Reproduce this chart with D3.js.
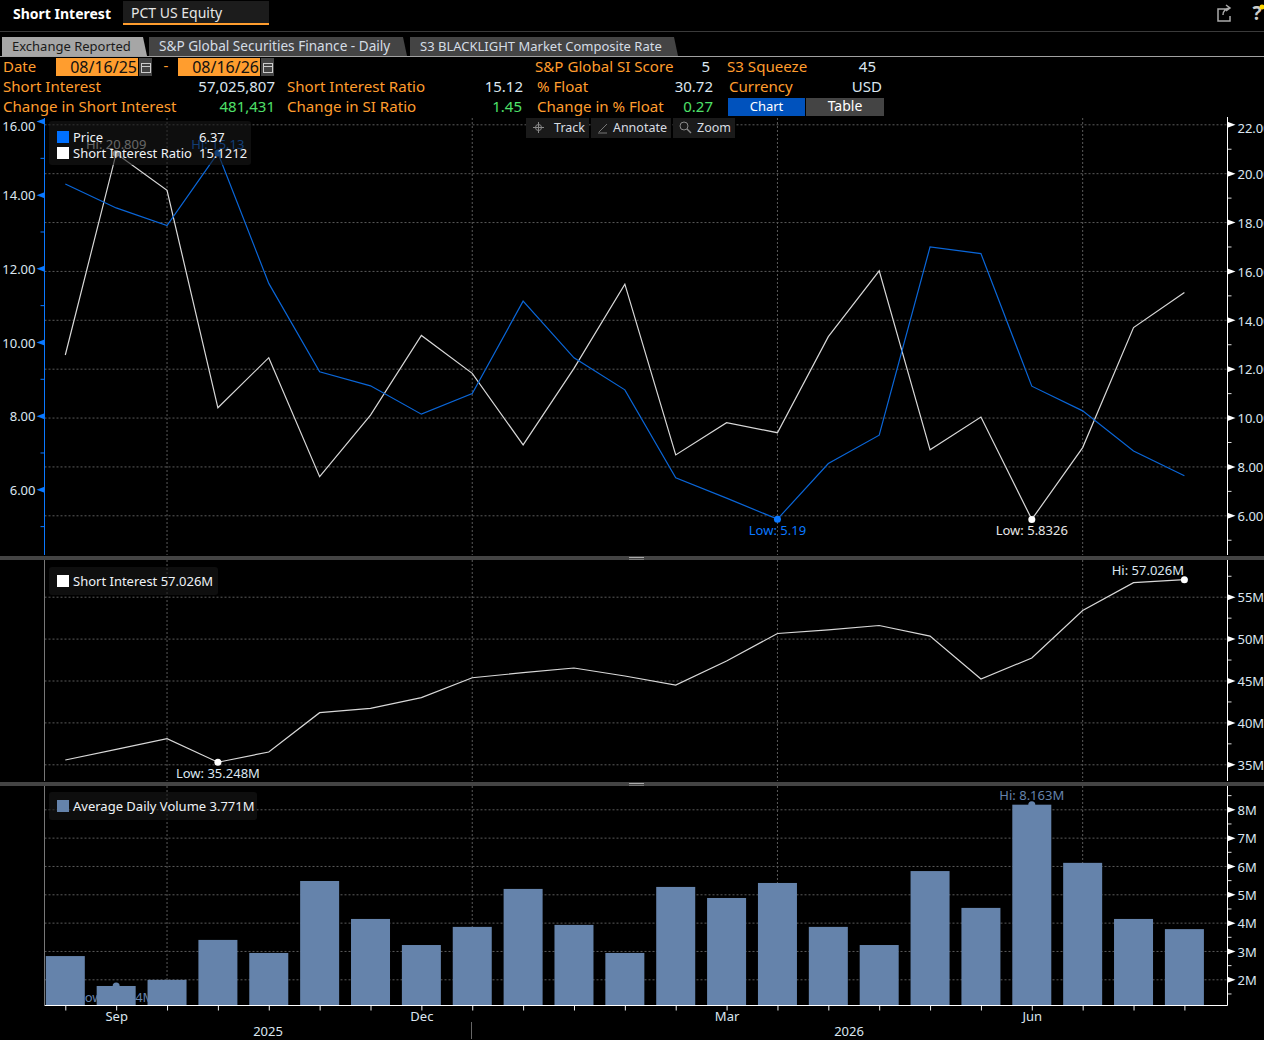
<!DOCTYPE html>
<html>
<head>
<meta charset="utf-8">
<script src="https://cdn.jsdelivr.net/npm/d3@7"></script>
<style>
  html, body { margin: 0; padding: 0; background: #000; overflow: hidden; }
  svg { display: block; }
  text { font-family: "Noto Sans", sans-serif; font-size: 13px; }
</style>
</head>
<body>
<div id="chart"></div>
<script>
// semi-monthly report dates
var dates = ['Aug 29','Sep 15','Sep 30','Oct 15','Oct 31','Nov 14','Nov 28','Dec 15','Dec 31','Jan 15','Jan 30','Feb 13',
             'Feb 27','Mar 13','Mar 31','Apr 15','Apr 30','May 15','May 29','Jun 15','Jun 30','Jul 15','Jul 31']
var price = [14.29,13.64,13.16,15.13,11.59,9.19,8.81,8.04,8.60,11.11,9.57,8.70,6.31,5.76,5.19,6.70,7.47,12.58,12.40,8.80,8.13,7.04,6.37]
var siRatio = [12.56,20.809,19.30,10.40,12.45,7.58,10.10,13.36,11.81,8.88,12.01,15.46,8.47,9.79,9.38,13.31,16.00,8.68,10.02,5.8326,8.77,13.68,15.1212]
var shortInterest = [35.51,36.79,38.06,35.248,36.47,41.16,41.68,42.95,45.33,45.93,46.49,45.54,44.46,47.33,50.61,51.03,51.56,50.30,45.18,47.68,53.35,56.67,57.026]
var avgVolume = [2.82,1.764,1.98,3.39,2.93,5.47,4.13,3.21,3.85,5.19,3.92,2.93,5.26,4.87,5.40,3.85,3.21,5.82,4.52,8.163,6.11,4.13,3.771]

var monthLabels = {'Sep 15':'Sep','Dec 15':'Dec','Mar 13':'Mar','Jun 15':'Jun'}
var quarterLines = ['Sep 30','Dec 31','Mar 31','Jun 30']
var priceTicks = [6,8,10,12,14,16]
var priceMinor = [5,7,9,11,13,15]
var ratioTicks = [6,8,10,12,14,16,18,20,22]
var ratioMinor = [5,7,9,11,13,15,17,19,21]
var siTicks = [35,40,45,50,55]
var siMinor = [37.5,42.5,47.5,52.5,57.5]
var volTicks = [2,3,4,5,6,7,8]
var volMinor = [1.5,2.5,3.5,4.5,5.5,6.5,7.5,8.5]

var orange = '#ff9d2e', valueCol = '#dbe6f0', green = '#4fe06a', gridCol = '#5a5a5a'
var blue = '#0a66d8', barCol = '#6583ab'

var svg = d3.select('#chart').append('svg').attr('width', 1264).attr('height', 1040)

function txt(g, x, y, s, col, anchor, size, weight) {
  var t = g.append('text').attr('x', x).attr('y', y).attr('dy', '0.35em')
    .attr('fill', col || valueCol).attr('text-anchor', anchor || 'start').text(s)
  if (size) t.style('font-size', size + 'px')
  if (weight) t.style('font-weight', weight)
  return t
}
function box(g, x, y, w, h, col) {
  return g.append('rect').attr('x', x).attr('y', y).attr('width', w).attr('height', h).attr('fill', col)
}

// header ---------------------------------------------------------
var head = svg.append('g')
txt(head, 13, 14, 'Short Interest', '#fff', 'start', 14, 'bold')
box(head, 123, 1, 146, 23, '#1c1c1c')
box(head, 123, 23, 146, 2, orange)
txt(head, 131, 13, 'PCT US Equity', '#e6e6e6', 'start', 14)
box(head, 0, 31, 1264, 1, '#3a3a3a')
box(head, 0, 56, 1264, 1, '#a0a0a0')

var tabs = [
  {label: 'Exchange Reported', x0: 2, x1: 147, fill: '#a6a6a6', col: '#1a1a1a', size: 13},
  {label: 'S&P Global Securities Finance - Daily', x0: 149, x1: 407, fill: '#444', col: '#d5dde5', size: 13.6},
  {label: 'S3 BLACKLIGHT Market Composite Rate', x0: 410, x1: 678, fill: '#444', col: '#d5dde5', size: 13}
]
tabs.forEach(function(t) {
  head.append('polygon').attr('fill', t.fill)
    .attr('points', [[t.x0,37],[t.x1-4,37],[t.x1,56],[t.x0,56]].join(' '))
  txt(head, t.x0 + 10, 46, t.label, t.col, 'start', t.size)
})

// date row
txt(head, 3, 67, 'Date', orange, 'start', 15)
box(head, 56, 58, 82, 18, orange)
txt(head, 137, 67, '08/16/25', '#111', 'end', 16)
box(head, 139, 58, 13, 18, '#444')
txt(head, 166, 66, '-', orange, 'middle', 15)
box(head, 178, 58, 82, 18, orange)
txt(head, 259, 67, '08/16/26', '#111', 'end', 16)
box(head, 261, 58, 13, 18, '#444')
;[140, 262].forEach(function(x) {
  head.append('rect').attr('x', x + 1.5).attr('y', 63.5).attr('width', 9).attr('height', 9)
    .attr('fill', 'none').attr('stroke', '#ccc')
  box(head, x + 1, 66, 10, 1, '#ccc')
})

var fieldLabels = [
  [3, 87, 'Short Interest'], [3, 107, 'Change in Short Interest'],
  [287, 87, 'Short Interest Ratio'], [287, 107, 'Change in SI Ratio'],
  [535, 67, 'S&P Global SI Score'], [537, 87, '% Float'], [537, 107, 'Change in % Float'],
  [727, 67, 'S3 Squeeze'], [729, 87, 'Currency']
]
var fieldValues = [
  [275, 87, '57,025,807', valueCol], [275, 107, '481,431', green],
  [523, 87, '15.12', valueCol], [522, 107, '1.45', green],
  [710, 67, '5', valueCol], [713, 87, '30.72', valueCol], [713, 107, '0.27', green],
  [876, 67, '45', valueCol], [882, 87, 'USD', valueCol]
]
fieldLabels.forEach(function(f) { txt(head, f[0], f[1], f[2], orange, 'start', 15.1) })
fieldValues.forEach(function(f) { txt(head, f[0], f[1], f[2], f[3], 'end', 15) })

box(head, 728, 98, 77, 18, '#0052bd')
txt(head, 766.5, 106, 'Chart', '#fff', 'middle', 13)
box(head, 806, 98, 78, 18, '#444')
txt(head, 845, 106, 'Table', '#fff', 'middle', 14)

// share + help icons
head.append('path').attr('d', 'M1228 9h-10v12h12v-5M1223 15c0-4 3-7 7-7M1226 5l4 3-4 3')
  .attr('fill', 'none').attr('stroke', '#aaa').attr('stroke-width', 1.5)
txt(head, 1257, 13, '?', '#ccc', 'middle', 19, 'bold')
head.append('circle').attr('cx', 1262).attr('cy', 7).attr('r', 2.5).attr('fill', '#ffd800')

// scales ---------------------------------------------------------
var x = d3.scalePoint().domain(dates).range([65.3, 1184.4])
var xL = 44.5, xR = 1227.5

var yPrice = d3.scaleLinear().domain([6, 16]).range([489.3, 121])
var yRatio = d3.scaleLinear().domain([6, 22]).range([515.3, 124.3])
var ySI = d3.scaleLinear().domain([35, 55]).range([764.3, 596.7])
var yVol = d3.scaleLinear().domain([2, 8]).range([979.3, 809.3])
var volBase = yVol.invert(1005.5)

var panels = [[118, 555], [560, 781], [786, 1005]]

function hGrid(scale, ticks) {
  svg.append('g').attr('transform', 'translate(' + xL + ',0)')
    .call(d3.axisRight(scale).tickValues(ticks).tickSize(xR - xL).tickFormat(''))
    .call(function(g) { g.select('.domain').remove() })
    .selectAll('line').attr('stroke', gridCol).attr('stroke-dasharray', '2,2')
}
hGrid(yRatio, ratioTicks)
hGrid(ySI, siTicks)
hGrid(yVol, volTicks)

panels.forEach(function(p) {
  svg.append('g').selectAll('line').data(quarterLines).enter().append('line')
    .attr('x1', function(d) { return x(d) }).attr('x2', function(d) { return x(d) })
    .attr('y1', p[0]).attr('y2', p[1])
    .attr('stroke', gridCol).attr('stroke-dasharray', '2,2')
})

// right hand axis: white triangles at majors, short ticks at minors
function rightAxis(scale, ticks, minor, fmt, y0, y1) {
  var g = svg.append('g').attr('transform', 'translate(' + xR + ',0)')
  g.call(d3.axisRight(scale).tickValues(ticks).tickSize(0).tickPadding(10).tickFormat(fmt))
  g.select('.domain').remove()
  g.selectAll('text').attr('fill', valueCol).style('font-size', '13px').style('font-family', '"Noto Sans", sans-serif')
    .attr('dy', function(d) { return d === 22 ? '0.6em' : '0.4em' })
  g.selectAll('.tick').append('path').attr('d', 'M0 -3L8 0L0 3Z').attr('fill', '#fff')
  var m = svg.append('g').attr('transform', 'translate(' + xR + ',0)')
  m.call(d3.axisRight(scale).tickValues(minor).tickSize(4).tickFormat(''))
  m.select('.domain').remove()
  m.selectAll('line').attr('stroke', '#ddd')
  svg.append('line').attr('x1', xR).attr('x2', xR).attr('y1', y0).attr('y2', y1).attr('stroke', '#fff')
}
var fmt2 = d3.format('.2f')
var fmtM = function(d) { return d + 'M' }
rightAxis(yRatio, ratioTicks, ratioMinor, fmt2, 117, 555)
rightAxis(ySI, siTicks, siMinor, fmtM, 560, 781)
rightAxis(yVol, volTicks, volMinor, fmtM, 786, 1005.5)

// left price axis
var leftG = svg.append('g').attr('transform', 'translate(' + xL + ',0)')
leftG.call(d3.axisLeft(yPrice).tickValues(priceTicks).tickSize(0).tickPadding(9).tickFormat(fmt2))
leftG.select('.domain').remove()
leftG.selectAll('text').attr('fill', valueCol).style('font-size', '13px').style('font-family', '"Noto Sans", sans-serif')
  .attr('dy', function(d) { return d === 16 ? '0.72em' : '0.4em' })
leftG.selectAll('.tick').append('path').attr('d', 'M0 -3L-8 0L0 3Z').attr('fill', '#0a78ff')
var leftM = svg.append('g').attr('transform', 'translate(' + xL + ',0)')
leftM.call(d3.axisLeft(yPrice).tickValues(priceMinor).tickSize(4).tickFormat(''))
leftM.select('.domain').remove()
leftM.selectAll('line').attr('stroke', '#0a78ff')
svg.append('line').attr('x1', xL).attr('x2', xL).attr('y1', 118).attr('y2', 555).attr('stroke', '#0a78ff')
svg.append('line').attr('x1', xL).attr('x2', xL).attr('y1', 560).attr('y2', 781).attr('stroke', '#777')
svg.append('line').attr('x1', xL).attr('x2', xL).attr('y1', 786).attr('y2', 1005).attr('stroke', '#777')

// labels that sit behind the bars and lines
var marks = svg.append('g')
txt(marks, x(dates[1]), 144, 'Hi: 20.809', '#ddd', 'middle')
txt(marks, x(dates[3]), 144, 'Hi: 15.13', '#0a78ff', 'middle')
txt(marks, x(dates[14]), 530, 'Low: 5.19', '#0a78ff', 'middle')
txt(marks, x(dates[19]), 530, 'Low: 5.8326', '#e6e6e6', 'middle')
txt(marks, x(dates[3]), 773, 'Low: 35.248M', valueCol, 'middle')
txt(marks, 1184, 570, 'Hi: 57.026M', valueCol, 'end')
txt(marks, x(dates[19]), 795, 'Hi: 8.163M', barCol, 'middle')
txt(marks, x(dates[1]), 997, 'Low: 1.764M', barCol, 'middle')

// lines
function drawLine(values, scale, col) {
  var line = d3.line().x(function(d, i) { return x(dates[i]) }).y(function(d) { return scale(d) })
  svg.append('path').datum(values).attr('d', line)
    .attr('fill', 'none').attr('stroke', col).attr('stroke-width', 1.2)
}
function dot(i, values, scale, col) {
  svg.append('circle').attr('cx', x(dates[i])).attr('cy', scale(values[i])).attr('r', 3.5).attr('fill', col)
}
drawLine(siRatio, yRatio, '#d8d8d8')
drawLine(price, yPrice, blue)
dot(1, siRatio, yRatio, '#fff')
dot(19, siRatio, yRatio, '#fff')
dot(3, price, yPrice, '#0a78ff')
dot(14, price, yPrice, '#0a78ff')
drawLine(shortInterest, ySI, '#d8d8d8')
dot(3, shortInterest, ySI, '#fff')
dot(22, shortInterest, ySI, '#fff')

// volume bars
dot(1, avgVolume, yVol, barCol)
dot(19, avgVolume, yVol, barCol)
svg.append('g').selectAll('rect').data(avgVolume).enter().append('rect')
  .attr('x', function(d, i) { return x(dates[i]) - 19.5 })
  .attr('width', 39)
  .attr('y', function(d) { return yVol(d) })
  .attr('height', function(d) { return yVol(volBase) - yVol(d) })
  .attr('fill', barCol)

// bottom axis
var xAxis = svg.append('g').attr('transform', 'translate(0,1005.5)')
xAxis.call(d3.axisBottom(x).tickSize(5).tickPadding(1).tickFormat(function(d) { return monthLabels[d] || '' }))
xAxis.select('.domain').remove()
xAxis.selectAll('line').attr('stroke', '#eee')
xAxis.selectAll('text').attr('fill', valueCol).style('font-size', '13px').style('font-family', '"Noto Sans", sans-serif')
svg.append('line').attr('x1', xL).attr('x2', xR).attr('y1', 1005.5).attr('y2', 1005.5).attr('stroke', '#fff')
txt(svg, 268, 1031, '2025', valueCol, 'middle')
txt(svg, 849, 1031, '2026', valueCol, 'middle')
svg.append('line').attr('x1', 471.5).attr('x2', 471.5).attr('y1', 1022).attr('y2', 1039).attr('stroke', '#666')

// panel separators
;[556, 782].forEach(function(y) {
  box(svg, 0, y, 1264, 4, '#444')
  box(svg, 629, y + 1, 15, 1, '#aaa')
  box(svg, 629, y + 3, 15, 1, '#777')
})

// legends
function legend(bx, by, bw, bh, rows) {
  var g = svg.append('g')
  box(g, bx, by, bw, bh, 'rgba(24,24,24,0.6)').attr('rx', 3)
  rows.forEach(function(r) {
    box(g, 57, r.y - 6, 12, 12, r.col)
    txt(g, 73, r.y, r.label, '#eef2f6')
    if (r.value) txt(g, 199, r.y, r.value, '#eef2f6')
  })
}
legend(49, 121, 202, 44, [
  {y: 137, col: '#0070ff', label: 'Price', value: '6.37'},
  {y: 153, col: '#fff', label: 'Short Interest Ratio', value: '15.1212'}
])
legend(49, 567, 169, 28, [{y: 581, col: '#fff', label: 'Short Interest 57.026M'}])
legend(49, 792, 208, 28, [{y: 806, col: barCol, label: 'Average Daily Volume 3.771M'}])

// toolbar
var toolNames = ['Track', 'Annotate', 'Zoom']
var toolX = [526, 591, 673]
var toolW = [63, 80, 62]
var toolEnd = [585, 667, 731]
toolNames.forEach(function(n, i) {
  box(svg, toolX[i], 118, toolW[i], 20, '#1a1a1a')
  txt(svg, toolEnd[i], 128, n, '#d8dde2', 'end', 12.5)
})
svg.append('path').attr('d', 'M533 127.5h11M538.5 122v11').attr('stroke', '#888').attr('fill', 'none')
svg.append('circle').attr('cx', 538.5).attr('cy', 127.5).attr('r', 3).attr('stroke', '#888').attr('fill', 'none')
svg.append('path').attr('d', 'M599 132l8 -8M598 133h9').attr('stroke', '#777').attr('fill', 'none')
svg.append('circle').attr('cx', 684).attr('cy', 126).attr('r', 4).attr('stroke', '#888').attr('fill', 'none')
svg.append('path').attr('d', 'M687 129l4 4').attr('stroke', '#888').attr('stroke-width', 1.5)
</script>
</body>
</html>
